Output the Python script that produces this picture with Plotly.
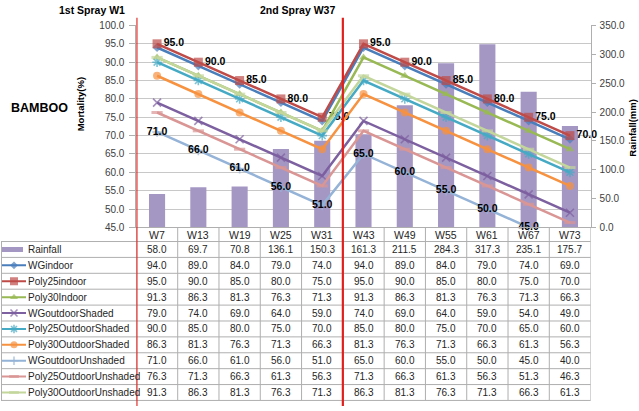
import plotly.graph_objects as go

W, H = 639, 411

# ---------------- data ----------------
categories = ["W7", "W13", "W19", "W25", "W31", "W43", "W49", "W55", "W61", "W67", "W73"]
rainfall = [58.0, 69.7, 70.8, 136.1, 150.3, 161.3, 211.5, 284.3, 317.3, 235.1, 175.7]
wg_indoor = [94.0, 89.0, 84.0, 79.0, 74.0, 94.0, 89.0, 84.0, 79.0, 74.0, 69.0]
poly25_indoor = [95.0, 90.0, 85.0, 80.0, 75.0, 95.0, 90.0, 85.0, 80.0, 75.0, 70.0]
poly30_indoor = [91.3, 86.3, 81.3, 76.3, 71.3, 91.3, 86.3, 81.3, 76.3, 71.3, 66.3]
wg_out_shaded = [79.0, 74.0, 69.0, 64.0, 59.0, 74.0, 69.0, 64.0, 59.0, 54.0, 49.0]
poly25_out_shaded = [90.0, 85.0, 80.0, 75.0, 70.0, 85.0, 80.0, 75.0, 70.0, 65.0, 60.0]
poly30_out_shaded = [86.3, 81.3, 76.3, 71.3, 66.3, 81.3, 76.3, 71.3, 66.3, 61.3, 56.3]
wg_out_unshaded = [71.0, 66.0, 61.0, 56.0, 51.0, 65.0, 60.0, 55.0, 50.0, 45.0, 40.0]
poly25_out_unshaded = [76.3, 71.3, 66.3, 61.3, 56.3, 71.3, 66.3, 61.3, 56.3, 51.3, 46.3]
poly30_out_unshaded = [91.3, 86.3, 81.3, 76.3, 71.3, 86.3, 81.3, 76.3, 71.3, 66.3, 61.3]

series_names = ["WGindoor", "Poly25indoor", "Poly30Indoor", "WGoutdoorShaded",
                "Poly25OutdoorShaded", "Poly30OutdoorShaded", "WGoutdoorUnshaded",
                "Poly25OutdoorUnshaded", "Poly30OutdoorUnshaded"]
series_values = [wg_indoor, poly25_indoor, poly30_indoor, wg_out_shaded,
                 poly25_out_shaded, poly30_out_shaded, wg_out_unshaded,
                 poly25_out_unshaded, poly30_out_unshaded]
labelled_series = {"Poly25indoor": "middle right", "WGoutdoorUnshaded": "middle center"}

mort_range = [45, 100]
rain_range = [0, 350]

# ---------------- styles ----------------
FONT = "Liberation Sans, Arial, sans-serif"
BAR_COLOR = "#A597C4"
GRID = "#C8C8C8"
TABLE_LINE = "#AFAFAF"
TXT = "#262626"
styles = [
    dict(color="#4A7EBB", symbol="diamond", size=7, lw=0),
    dict(color="#BE4B48", symbol="square", size=9, lw=0),
    dict(color="#98B954", symbol="triangle-up", size=8, lw=0),
    dict(color="#7D60A0", symbol="x-thin-open", size=8, lw=1.6),
    dict(color="#46AAC5", symbol="asterisk-open", size=8, lw=1.6),
    dict(color="#F69240", symbol="circle", size=8, lw=0),
    dict(color="#95B3D7", symbol="cross-thin-open", size=7, lw=1.6),
    dict(color="#D99694", symbol="line-ew-open", size=8, lw=3),
    dict(color="#C3D69B", symbol="line-ew-open", size=8, lw=3),
]

# pixel geometry
PLOT_L, PLOT_R, PLOT_T, PLOT_B = 136.4, 590.6, 20.0, 227.5
ROW0, ROW_H = 242.0, 16.33
N_ROWS = 1 + len(series_names)


def px(x):
    return x / W


def py(y):
    return 1 - y / H


def note(x, y, text, size=10, bold=False, color=TXT, xanchor="center", angle=0,
         xref="paper"):
    return dict(x=x, y=y, xref=xref, yref="paper", text=text, showarrow=False,
                xanchor=xanchor, yanchor="middle", textangle=angle,
                font=dict(family=FONT, size=size, color=color, weight=700 if bold else 400))


fig = go.Figure()

# rainfall bars (base axis, shown on the right)
fig.add_trace(go.Bar(x=categories, y=rainfall, name="Rainfall", xaxis="x", yaxis="y",
                     marker=dict(color=BAR_COLOR, line=dict(width=0)), hoverinfo="skip"))

# mortality lines (overlay axis, shown on the left)
for name, vals, st in zip(series_names, series_values, styles):
    inside = [mort_range[0] <= v <= mort_range[1] for v in vals]
    mode = "lines+markers"
    text = None
    tpos = None
    if name in labelled_series:
        mode = "lines+markers+text"
        text = [f"{v:.1f}" if ok else "" for v, ok in zip(vals, inside)]
        tpos = labelled_series[name]
    fig.add_trace(go.Scatter(
        x=categories, y=vals, name=name, xaxis="x", yaxis="y2", mode=mode,
        text=text, textposition=tpos,
        textfont=dict(family=FONT, size=10.5, color="black", weight=700),
        line=dict(color=st["color"], width=2.5),
        marker=dict(symbol=st["symbol"], size=[st["size"] if ok else 0 for ok in inside],
                    color=st["color"], line=dict(color=st["color"], width=st["lw"])),
        cliponaxis=False, hoverinfo="skip"))

# legend swatches in the table's first column
legend_names = ["Rainfall"] + series_names
fig.add_trace(go.Scatter(x=[0, 0.875], y=[0, 0], xaxis="x3", yaxis="y3", mode="lines",
                         line=dict(color=BAR_COLOR, width=5), hoverinfo="skip"))
for i, (name, st) in enumerate(zip(series_names, styles), start=1):
    fig.add_trace(go.Scatter(
        x=[0, 0.5, 1], y=[i, i, i], xaxis="x3", yaxis="y3", mode="lines+markers",
        line=dict(color=st["color"], width=2),
        marker=dict(symbol=st["symbol"], size=[0, st["size"] - 1, 0], color=st["color"],
                    line=dict(color=st["color"], width=st["lw"])),
        hoverinfo="skip"))

shapes = []
annotations = []

# table grid
tbl_bottom = ROW0 + ROW_H * N_ROWS
for k in range(len(categories) + 1):
    shapes.append(dict(type="line", xref="x", yref="paper", x0=k - 0.5, x1=k - 0.5,
                       y0=py(PLOT_B), y1=py(tbl_bottom), line=dict(color=TABLE_LINE, width=1)))
for i in range(N_ROWS + 1):
    yy = py(ROW0 + i * ROW_H)
    shapes.append(dict(type="line", xref="paper", yref="paper", x0=px(1), x1=px(PLOT_R),
                       y0=yy, y1=yy, line=dict(color=TABLE_LINE, width=1)))
shapes.append(dict(type="line", xref="paper", yref="paper", x0=px(1.5), x1=px(1.5),
                   y0=py(ROW0), y1=py(tbl_bottom), line=dict(color=TABLE_LINE, width=1)))

# red spray markers
for xv in [-0.5, 4.5]:
    shapes.append(dict(type="line", xref="x", yref="paper", x0=xv, x1=xv, y0=0, y1=py(12),
                       line=dict(color="#E0201C", width=2.2)))

# table text
row_values = [rainfall] + series_values
for c in categories:
    annotations.append(note(c, py(235), c, size=10.5, xref="x"))
for i, (name, vals) in enumerate(zip(legend_names, row_values)):
    yc = py(ROW0 + (i + 0.5) * ROW_H)
    annotations.append(note(px(26), yc, name, xanchor="left"))
    for c, v in zip(categories, vals):
        annotations.append(note(c, yc, f"{v:.1f}", xref="x"))

# titles
annotations += [
    note(px(127), py(4.5), "1st Spray W1", size=10.5, bold=True, color="black", xanchor="right"),
    note(px(337), py(4.5), "2nd Spray W37", size=10.5, bold=True, color="black", xanchor="right"),
    note(px(9), py(105), "BAMBOO", size=12.5, bold=True, color="black", xanchor="left"),
    note(px(80), py(101), "Mortality(%)", size=9.5, bold=True, color="black", angle=-90),
    note(px(633), py(125), "Rainfall(mm)", size=9.5, bold=True, color="black", angle=-90),
]

fig.update_layout(
    width=W, height=H, margin=dict(l=0, r=0, t=0, b=0),
    paper_bgcolor="white", plot_bgcolor="white", showlegend=False,
    bargap=0.61, font=dict(family=FONT, size=10, color=TXT),
    xaxis=dict(type="category", categoryorder="array", categoryarray=categories,
               domain=[px(PLOT_L), px(PLOT_R)], range=[-0.5, len(categories) - 0.5],
               showticklabels=False, showgrid=False, zeroline=False,
               showline=True, linecolor=TABLE_LINE, linewidth=1, anchor="y"),
    yaxis=dict(domain=[py(PLOT_B), py(PLOT_T)], range=rain_range, dtick=50, tickformat=".1f",
               side="right", showgrid=False, zeroline=False, showline=True,
               linecolor=TABLE_LINE, ticks="outside", ticklen=4, tickcolor=TABLE_LINE,
               ticklabelstandoff=2,
               tickfont=dict(family=FONT, size=10, color="#404040"), anchor="x"),
    yaxis2=dict(overlaying="y", side="left", range=mort_range, dtick=5, tickformat=".1f",
                showgrid=True, gridcolor=GRID, gridwidth=1, zeroline=False, showline=True,
                linecolor=TABLE_LINE, ticks="outside", ticklen=6, tickcolor=TABLE_LINE,
                ticklabelstandoff=3,
                tickfont=dict(family=FONT, size=10, color="#404040"), anchor="x"),
    xaxis3=dict(domain=[px(2), px(26)], range=[0, 1], visible=False, anchor="y3"),
    yaxis3=dict(domain=[py(tbl_bottom), py(ROW0)], range=[N_ROWS - 0.5, -0.5],
                visible=False, anchor="x3"),
    shapes=shapes, annotations=annotations,
)

fig.write_html(
    "out.html",
    config={"displayModeBar": False},
    post_script="document.body.style.margin='0';document.body.style.overflow='hidden';",
)
